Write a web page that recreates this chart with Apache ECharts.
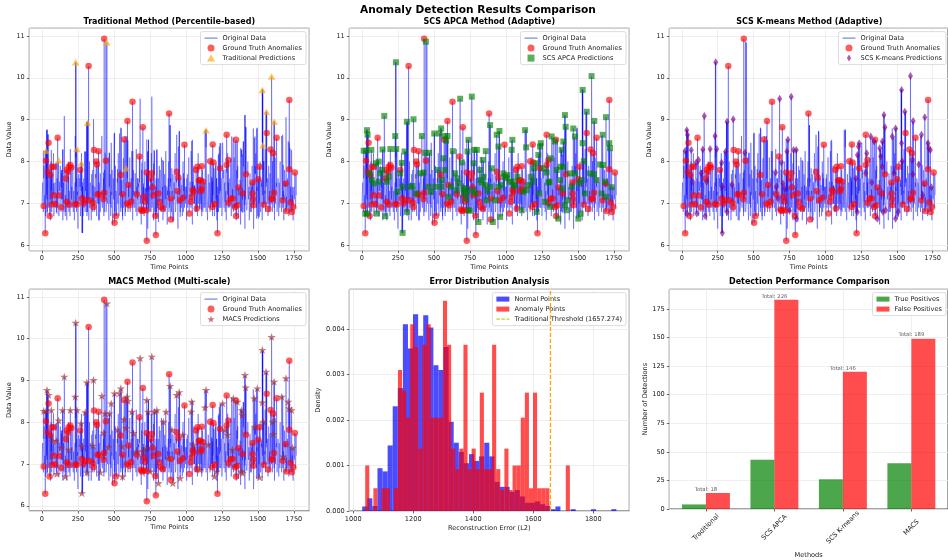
<!DOCTYPE html>
<html>
<head>
<meta charset="utf-8">
<title>Anomaly Detection Results Comparison</title>
<script src="https://cdn.jsdelivr.net/npm/echarts@6.0.0/dist/echarts.min.js"></script>
<style>
html,body{margin:0;padding:0;background:#ffffff;}
#chart{width:948px;height:560px;}
</style>
</head>
<body>
<div id="chart"></div>
<script>
// ================= DATA =================
// background signal, readings every 5 time points (0 .. 1765)
const baseValues = [
7.0,7.5,6.8,7.9,7.2,6.7,7.6,7.1,8.1,6.9,7.4,7.8,6.6,7.3,7.7,7.0,8.2,6.9,7.5,7.1,
6.8,7.6,7.2,8.0,6.7,7.4,6.9,7.8,7.1,6.6,7.5,8.3,7.0,6.8,7.7,7.2,6.9,8.0,7.3,6.7,
7.6,7.1,6.9,7.9,7.3,6.6,7.5,8.1,6.8,7.2,6.4,7.7,7.0,7.4,6.9,8.2,7.1,6.7,7.6,7.2,
6.8,7.9,7.3,6.9,7.5,6.6,8.0,7.2,7.0,7.7,6.8,7.4,8.3,6.9,7.1,7.6,6.7,7.3,7.9,7.0,
6.6,7.5,7.1,8.0,6.9,7.4,6.7,7.8,7.2,6.8,7.6,7.0,8.1,6.6,7.3,7.7,6.9,7.2,6.5,7.6,
7.1,6.8,7.9,7.3,6.9,7.5,8.2,6.7,7.2,7.6,6.9,7.4,6.6,8.0,7.1,7.3,6.8,7.7,7.0,7.5,
6.8,7.2,8.1,6.9,7.6,7.0,6.6,7.8,7.3,6.9,7.5,8.3,6.7,7.1,7.4,6.8,7.9,7.2,6.5,7.6,
7.0,7.4,6.7,8.0,7.2,6.9,7.6,6.4,7.8,7.1,6.8,7.5,8.2,6.9,7.3,6.6,7.7,7.0,7.4,6.8,
7.5,7.1,6.7,7.9,7.2,6.9,8.1,7.0,6.6,7.6,7.3,6.8,7.8,7.1,6.5,7.4,8.0,6.9,7.2,7.6,
6.8,7.3,7.7,6.6,7.1,8.2,6.9,7.5,7.0,6.4,7.8,7.2,6.8,7.6,7.1,6.7,8.0,7.3,6.9,7.4,
7.0,6.6,7.7,7.2,8.1,6.8,7.4,6.9,7.6,6.5,7.3,7.9,7.0,6.8,7.5,7.2,6.7,8.2,7.1,6.9,
7.6,7.0,6.7,7.8,7.3,6.9,7.5,8.0,6.8,7.2,6.6,7.7,7.1,7.4,6.9,8.1,7.0,6.7,7.5,7.2,
6.8,7.9,7.1,6.6,7.4,7.0,8.2,6.9,7.3,7.6,6.7,7.2,7.8,6.9,7.5,7.0,6.6,8.0,7.2,7.4,
6.9,7.6,7.1,6.7,7.8,7.3,6.8,8.1,7.0,7.5,6.6,7.2,7.9,6.9,7.4,7.1,6.5,7.7,7.3,6.8,
7.5,7.0,6.4,7.8,7.2,6.9,8.0,7.1,6.6,7.6,7.3,6.8,7.9,7.0,6.4,7.5,7.2,8.2,6.9,7.3,
6.7,7.6,7.1,8.0,6.9,7.4,6.6,7.8,7.2,7.0,8.3,6.8,7.5,7.1,6.7,7.9,7.3,6.9,7.6,7.0,
6.8,7.7,7.2,6.6,8.1,7.0,7.4,6.9,7.6,6.7,7.3,8.0,7.1,6.8,7.5,7.2,6.6,7.8,7.0,7.4,
6.9,7.6,7.1,6.7,8.0,7.3,6.8,7.5,7.0,6.6,7.4,7.2,6.9,7.7
];
// second set of readings, half-way between the first ones (2.5 .. 1767.5)
const baseValuesMid = [
7.3,6.9,7.6,7.0,6.6,7.8,7.2,6.8,7.4,7.7,6.9,7.1,8.0,6.8,7.2,7.5,6.7,7.3,6.9,7.8,
7.2,6.9,7.5,6.7,7.3,7.9,6.8,7.1,7.6,7.0,6.8,7.4,7.2,7.7,6.6,7.0,7.5,6.8,7.1,7.6,
6.9,7.4,7.7,6.8,7.0,7.3,6.9,7.4,7.6,6.8,7.1,7.0,7.6,6.7,7.3,7.0,7.5,7.2,6.9,7.8,
7.3,7.0,6.7,7.6,7.1,7.3,6.9,7.5,6.6,7.2,7.8,7.0,6.8,7.4,7.7,6.9,7.2,7.0,6.6,7.5,
7.2,6.9,7.7,7.0,7.3,7.6,6.8,7.1,7.5,6.9,7.2,7.8,6.9,7.4,7.0,6.7,7.5,7.8,6.9,7.1,
7.4,7.0,7.2,6.7,7.6,7.0,6.9,7.4,7.8,6.8,7.2,7.0,7.6,6.9,7.4,6.7,7.2,7.3,7.6,6.8,
7.5,7.0,6.8,7.4,7.1,7.7,6.9,7.2,7.0,7.6,6.8,7.3,7.1,7.6,6.9,7.5,7.0,6.7,7.8,7.1,
7.2,6.8,7.5,7.1,6.9,7.7,7.0,7.3,6.9,7.4,7.6,6.8,7.1,7.5,7.0,7.2,6.8,7.3,7.6,7.1,
6.9,7.6,7.3,7.0,7.5,6.8,7.2,7.4,7.0,6.8,7.7,7.1,6.9,7.4,7.2,7.6,6.8,7.3,7.5,6.9,
7.2,7.0,6.9,7.5,7.3,6.8,7.6,7.1,6.7,7.3,7.0,7.5,7.3,6.9,7.4,7.2,6.8,7.6,7.1,7.0,
7.4,7.1,6.9,7.5,6.8,7.3,7.1,7.7,6.9,7.2,7.6,7.0,7.4,7.1,6.8,7.6,7.2,7.0,7.5,7.3,
7.1,7.4,7.0,6.8,7.6,7.1,6.9,7.3,7.5,7.0,7.2,6.9,7.5,6.8,7.3,7.0,7.6,7.2,6.9,7.5,
7.3,7.0,7.6,7.2,6.8,7.4,7.1,7.5,6.9,7.2,7.0,7.6,7.1,7.4,6.8,7.3,7.1,7.5,6.9,7.0,
7.5,7.0,7.4,7.2,6.9,7.5,7.1,6.9,7.5,7.0,7.3,7.6,6.9,7.2,7.0,7.5,7.2,6.8,7.1,7.6,
6.9,7.3,7.1,7.2,6.8,7.6,7.3,7.4,7.0,6.8,7.5,7.1,7.3,6.9,7.2,7.0,7.7,7.1,7.4,6.8,
7.3,7.0,7.4,6.8,7.5,7.1,7.2,6.9,7.5,7.3,6.8,7.4,7.0,7.6,7.2,7.0,6.8,7.5,7.1,7.3,
7.2,7.1,6.9,7.4,7.0,7.5,6.8,7.3,7.1,7.5,6.9,7.2,7.0,7.6,6.9,7.3,7.1,7.4,6.8,7.2,
7.3,6.9,7.5,7.2,6.8,7.4,7.0,7.2,6.8,7.3,7.1,7.5,7.0,7.2
];
const baseStep = 5;

// ground-truth anomalies [time, value]
const groundTruth = [
[12,6.94],[23,6.29],[28,8.02],[42,7.76],[46,8.45],[53,6.70],[58,7.68],[69,7.88],[69,6.98],[81,7.88],
[81,7.20],[92,6.99],[109,8.57],[120,7.19],[134,6.91],[166,7.60],[173,7.04],[173,7.80],[180,7.75],[185,7.88],
[185,6.98],[197,7.92],[204,7.86],[231,6.99],[243,6.98],[266,7.80],[277,7.12],[289,7.00],[300,7.08],[324,10.28],
[330,7.08],[354,7.03],[358,6.92],[361,8.28],[377,8.00],[382,7.93],[386,7.22],[393,8.25],[400,7.21],[428,7.10],
[432,7.26],[432,10.93],[444,8.02],[504,6.54],[513,6.70],[548,7.68],[560,7.22],[571,8.53],[590,7.00],[594,8.97],
[601,7.44],[606,6.96],[620,7.05],[629,9.43],[659,7.22],[677,8.12],[687,6.86],[694,6.82],[701,8.82],[705,6.84],
[710,7.16],[715,7.05],[726,6.84],[728,6.11],[728,7.74],[756,7.60],[763,7.72],[768,7.39],[775,7.20],[788,6.71],
[791,6.25],[809,7.24],[816,7.04],[825,6.92],[839,6.88],[883,9.15],[895,6.62],[895,7.12],[936,7.76],[941,7.30],
[948,7.62],[960,7.08],[978,7.14],[990,8.40],[1024,6.76],[1034,7.04],[1040,7.16],[1047,7.32],[1055,7.28],[1071,7.80],
[1075,6.88],[1080,7.88],[1090,7.55],[1098,7.56],[1105,7.30],[1110,7.89],[1110,7.36],[1117,7.52],[1168,8.01],[1184,6.92],
[1186,8.41],[1191,7.98],[1202,6.99],[1219,6.29],[1237,7.84],[1283,8.64],[1283,7.92],[1295,8.04],[1295,7.02],[1310,7.12],
[1325,7.12],[1341,6.92],[1348,6.70],[1348,8.52],[1357,6.96],[1366,7.38],[1394,7.24],[1417,7.70],[1463,7.50],[1463,7.24],
[1468,7.10],[1468,6.96],[1503,7.58],[1510,7.88],[1542,6.98],[1561,8.68],[1572,6.87],[1588,8.29],[1595,7.12],[1602,7.10],
[1607,8.20],[1612,7.26],[1630,8.57],[1672,7.08],[1693,7.48],[1699,6.82],[1718,9.47],[1718,7.82],[1727,7.03],[1736,6.80],
[1746,6.92],[1757,7.74]
];

// Traditional (percentile) predictions
const tradPred = [
[28,8.26],[116,8.03],[234,10.37],[243,8.30],[273,7.96],[317,8.93],[451,10.84],[585,7.84],[1140,8.75],
[1531,9.71],[1536,8.39],[1559,9.19],[1595,10.03],[1614,8.95]
];

// SCS APCA predictions
const apcaPred = [
[12,8.26],[30,8.26],[35,8.75],[39,8.64],[35,6.76],[23,6.76],[53,7.72],[65,8.28],[69,7.56],[81,7.48],
[97,7.96],[104,6.76],[116,8.00],[120,7.52],[127,7.72],[139,7.80],[143,8.29],[155,9.09],[162,6.70],[173,7.52],
[185,7.64],[197,8.30],[231,8.61],[236,10.37],[238,8.30],[247,7.28],[266,7.72],[277,7.97],[282,7.40],[282,6.30],
[296,8.24],[312,8.95],[312,6.80],[335,7.40],[351,7.42],[358,9.01],[377,7.24],[405,7.72],[416,8.61],[428,7.74],
[439,8.21],[444,10.86],[462,7.40],[467,8.21],[479,7.28],[502,8.67],[509,7.40],[527,7.80],[539,8.67],[550,8.79],
[550,7.40],[555,7.56],[566,8.08],[578,7.80],[578,8.61],[585,8.50],[594,8.61],[601,7.16],[617,7.40],[631,8.25],
[647,7.72],[659,7.32],[663,7.60],[670,7.48],[682,9.50],[694,7.98],[705,7.36],[710,7.24],[717,7.36],[724,7.12],
[728,7.28],[733,8.24],[740,8.52],[740,6.84],[751,6.83],[763,9.55],[768,7.32],[775,7.96],[779,8.28],[786,7.24],
[798,8.28],[809,6.56],[821,7.80],[821,7.56],[832,7.50],[839,8.04],[844,7.64],[855,7.44],[860,8.25],[867,7.08],
[872,7.31],[890,8.87],[890,7.40],[902,7.84],[909,6.56],[925,7.08],[936,8.64],[948,8.36],[948,7.40],[955,8.73],
[960,6.68],[971,7.44],[983,7.72],[990,7.64],[1006,7.60],[1010,7.68],[1029,7.52],[1040,8.28],[1045,8.52],[1047,7.52],
[1057,7.42],[1059,7.44],[1080,7.64],[1110,6.84],[1121,7.28],[1133,8.75],[1140,8.34],[1144,7.32],[1156,7.44],[1179,7.64],
[1184,7.52],[1195,7.84],[1209,7.96],[1214,6.80],[1225,8.16],[1232,7.24],[1237,8.36],[1242,8.44],[1260,7.84],[1272,7.04],
[1283,7.74],[1295,7.50],[1302,7.52],[1306,6.92],[1311,8.08],[1318,8.60],[1341,8.48],[1353,7.80],[1364,6.64],[1376,7.56],
[1380,7.88],[1387,8.28],[1394,7.36],[1399,8.48],[1399,7.88],[1410,9.11],[1410,6.96],[1415,8.83],[1422,6.84],[1427,7.08],
[1445,7.72],[1457,7.40],[1468,8.79],[1480,8.60],[1480,7.72],[1503,6.64],[1510,7.48],[1519,6.76],[1526,7.56],[1533,8.44],
[1533,9.71],[1542,8.01],[1549,7.24],[1561,9.19],[1584,7.72],[1595,10.04],[1612,7.70],[1614,8.97],[1630,7.56],[1653,7.93],
[1665,7.24],[1672,8.64],[1676,7.92],[1688,7.52],[1695,9.06],[1699,7.16],[1718,8.44],[1723,8.32],[1734,7.39]
];

// SCS K-means predictions
const kmeansPred = [
[23,8.26],[34,8.75],[39,8.64],[35,6.76],[65,8.28],[76,7.52],[99,7.98],[104,6.76],[116,8.04],[134,7.72],
[146,8.29],[157,9.09],[162,6.70],[173,7.52],[197,8.30],[231,8.61],[236,10.37],[243,8.30],[277,7.97],[282,7.40],
[282,6.30],[305,8.24],[315,8.95],[315,6.80],[358,9.01],[351,7.44],[439,8.21],[654,7.74],[659,7.40],[670,7.12],
[682,9.50],[694,7.98],[705,7.48],[717,7.36],[733,8.24],[740,8.52],[751,6.83],[763,9.55],[779,8.28],[798,8.28],
[798,6.64],[1214,7.60],[1225,8.16],[1225,6.80],[1232,8.36],[1237,8.44],[1283,7.72],[1290,8.20],[1318,8.60],[1325,7.50],
[1341,8.48],[1364,6.64],[1380,8.32],[1387,8.12],[1399,8.48],[1399,7.88],[1404,6.80],[1410,9.11],[1417,8.82],[1422,6.84],
[1468,8.60],[1480,7.72],[1491,8.79],[1491,6.64],[1510,6.80],[1533,8.44],[1533,9.71],[1537,8.01],[1556,9.19],[1595,10.04],
[1607,8.04],[1612,7.70],[1614,8.97],[1653,7.93],[1672,8.64],[1681,7.20],[1695,9.06],[1718,8.44],[1723,8.32],[1734,8.28],
[1741,7.39]
];

// MACS predictions
const macsPred = [
[12,8.27],[28,8.27],[35,8.77],[46,8.65],[65,8.29],[76,7.55],[99,7.56],[104,6.76],[116,8.04],[134,7.39],
[143,8.29],[155,9.09],[162,6.70],[185,7.34],[197,8.29],[231,8.61],[234,10.38],[243,8.29],[271,7.97],[277,7.42],
[277,6.30],[301,8.24],[312,8.95],[312,6.80],[354,7.44],[358,9.01],[405,6.80],[416,8.63],[428,7.75],[439,8.21],
[451,10.84],[462,7.40],[469,8.21],[481,8.45],[504,8.69],[525,7.82],[539,8.69],[548,8.81],[555,7.42],[560,6.70],
[571,8.07],[585,7.86],[590,8.61],[597,8.51],[624,8.25],[636,7.74],[659,7.30],[682,9.53],[701,7.30],[721,7.38],
[728,8.53],[737,8.25],[751,6.82],[763,9.57],[781,8.25],[798,8.29],[809,6.54],[844,8.01],[862,8.25],[879,7.15],
[890,8.87],[902,7.82],[909,6.54],[936,8.65],[953,8.72],[960,6.66],[978,7.70],[1036,8.25],[1040,8.49],[1052,7.46],
[1098,6.86],[1133,8.35],[1140,8.77],[1156,7.46],[1198,6.70],[1214,6.82],[1255,8.45],[1272,7.82],[1290,7.70],[1323,7.34],
[1329,8.57],[1357,8.49],[1383,6.82],[1387,8.29],[1392,8.17],[1394,6.78],[1410,9.13],[1415,8.83],[1475,8.57],[1480,7.89],
[1496,8.81],[1510,6.68],[1531,8.47],[1531,9.73],[1538,8.01],[1556,9.21],[1595,10.04],[1602,8.01],[1607,7.72],[1612,8.97],
[1665,8.61],[1676,7.18],[1695,9.05],[1711,8.49],[1718,8.33],[1734,8.29],[1741,7.39]
];

// Error distribution histograms (density per bin)
const normalBinStart = 1030, normalBinWidth = 16.94;
const normalDensity = [
0.00010,0.00028,0.00011,0.00094,0.00087,0.00144,0.00230,0.00270,0.00410,0.00357,
0.00432,0.00385,0.00430,0.00403,0.00320,0.00310,0.00360,0.00196,0.00150,0.00130,
0.00105,0.00125,0.00110,0.00120,0.00150,0.00120,0.00064,0.00053,0.00053,0.00042,
0.00046,0.00032,0.00018,0.00018,0.00021,0.00015,0.00011,0.00004,0.00010,0,
0,0.00004,0,0,0,0.00004,0,0,0,0.00004
];
const anomalyBinStart = 1040, anomalyBinWidth = 13.64;
const anomalyDensity = [
0.00100,0,0.00050,0,0.00050,0.00050,0,0.00050,0.00310,0.00265,
0.00205,0.00410,0.00360,0.00137,0.00365,0.00410,0.00205,0.00205,0.00205,0.00462,
0.00365,0.00137,0.00092,0.00137,0.00365,0.00092,0.00137,0.00092,0.00260,0.00092,
0.00092,0.00365,0.00092,0.00046,0.00137,0.00046,0.00100,0.00100,0.00205,0.00260,
0.00050,0.00260,0.00050,0.00050,0.00050,0,0,0,0,0.00100
];
const threshold = 1657.274;

// Detection performance
const methods = ['Traditional', 'SCS APCA', 'SCS K-means', 'MACS'];
const truePositives = [4, 43, 26, 40];
const falsePositives = [14, 183, 120, 149];
const totals = [18, 226, 146, 189];

// ================= BUILD =================
const FONT = 'DejaVu Sans';
const lineData = (function () {
  const pts = baseValues.map((v, i) => [i * baseStep, v]);
  baseValuesMid.forEach((v, i) => pts.push([i * baseStep + baseStep / 2, v]));
  [groundTruth, tradPred, apcaPred, kmeansPred, macsPred].forEach(a => a.forEach(p => pts.push([p[0], p[1]])));
  pts.sort((a, b) => a[0] - b[0]);
  return pts;
})();

const G = [
  {left: 29.3, top: 28.3, width: 280, height: 222.4},
  {left: 349.3, top: 28.3, width: 280, height: 222.4},
  {left: 669.3, top: 28.3, width: 280, height: 222.4},
  {left: 29.3, top: 289.3, width: 280, height: 221.7},
  {left: 349.3, top: 289.3, width: 280, height: 221.7},
  {left: 669.3, top: 289.3, width: 280, height: 221.7}
];

const plain = v => String(Math.round(v * 1e6) / 1e6);

function axis(gridIndex, min, max, step, extra) {
  const base = {
    type: 'value', gridIndex: gridIndex, min: min, max: max,
    minInterval: step, maxInterval: step,
    axisLine: {show: false, onZero: false},
    axisTick: {show: true, length: 2.5, lineStyle: {color: '#444', width: 0.8}},
    axisLabel: {show: true, fontFamily: FONT, fontSize: 6.6, color: '#222', margin: 4.5,
                showMinLabel: false, showMaxLabel: false, formatter: plain},
    splitLine: {show: true, lineStyle: {color: '#ebebeb', width: 0.8}},
    nameLocation: 'middle',
    nameTextStyle: {fontFamily: FONT, fontSize: 6.6, color: '#222'}
  };
  if (extra) {
    for (const k in extra) {
      if (typeof extra[k] === 'object' && !Array.isArray(extra[k]) && base[k]) base[k] = Object.assign({}, base[k], extra[k]);
      else base[k] = extra[k];
    }
  }
  return base;
}

const xAxes = [], yAxes = [];
for (let k = 0; k < 6; k++) {
  if (k === 4) {
    xAxes.push(axis(k, 987, 1920, 200, {name: 'Reconstruction Error (L2)', nameGap: 14}));
    yAxes.push(axis(k, 0, 0.00487, 0.001, {name: 'Density', nameGap: 26,
      axisLabel: {showMinLabel: true, formatter: v => v.toFixed(3)}}));
  } else if (k === 5) {
    xAxes.push(axis(k, -0.535, 3.535, 1, {name: 'Methods', nameGap: 43,
      axisLabel: {rotate: 45, align: 'center', verticalAlign: 'middle', margin: 18.5,
                  formatter: v => methods[Math.round(v)] || ''}}));
    yAxes.push(axis(k, 0, 192.2, 25, {name: 'Number of Detections', nameGap: 21,
      axisLabel: {showMinLabel: true}}));
  } else {
    xAxes.push(axis(k, -88, 1857, 250, {name: 'Time Points', nameGap: 13}));
    yAxes.push(axis(k, 5.875, 11.18, 1, {name: 'Data Value', nameGap: 15.5}));
  }
}

const SYM = {
  tri: 'path://M50,0 L100,86.6 L0,86.6 Z',
  sq: 'path://M0,0 L100,0 L100,100 L0,100 Z',
  dia: 'path://M30,0 L60,50 L30,100 L0,50 Z',
  star: 'path://M50,0 L61.2,34.5 L97.6,34.5 L68.2,55.9 L79.4,90.5 L50,69.1 L20.6,90.5 L31.8,55.9 L2.4,34.5 L38.8,34.5 Z'
};
const LINE_ICON = 'path://M0,0 L13,0 L13,1 L0,1 Z';
const PATCH_ICON = 'path://M0,0 L13,0 L13,5 L0,5 Z';
const DASH_ICON = 'path://M0,0 L3.6,0 L3.6,1.3 L0,1.3 Z M5,0 L8.6,0 L8.6,1.3 L5,1.3 Z M10,0 L13,0 L13,1.3 L10,1.3 Z';

const preds = [
  {name: 'Traditional Predictions', data: tradPred, symbol: SYM.tri, size: [7.5, 6.5], color: 'rgba(255,165,0,0.8)'},
  {name: 'SCS APCA Predictions', data: apcaPred, symbol: SYM.sq, size: 6, color: 'rgba(0,128,0,0.8)'},
  {name: 'SCS K-means Predictions', data: kmeansPred, symbol: SYM.dia, size: [5, 8], color: 'rgba(128,0,128,0.8)'},
  {name: 'MACS Predictions', data: macsPred, symbol: SYM.star, size: [8.5, 8], color: 'rgba(165,42,42,0.8)'}
];

const series = [];
for (let k = 0; k < 4; k++) {
  series.push({type: 'line', name: 'Original Data', xAxisIndex: k, yAxisIndex: k, data: lineData,
    symbol: 'none', showSymbol: false, lineStyle: {color: 'rgba(0,0,255,0.5)', width: 0.7},
    silent: true, z: 2, clip: true});
  series.push({type: 'scatter', name: 'Ground Truth Anomalies', xAxisIndex: k, yAxisIndex: k, data: groundTruth,
    symbol: 'circle', symbolSize: 6.5, itemStyle: {color: 'rgba(255,0,0,0.8)'}, silent: true, z: 3});
  series.push({type: 'scatter', name: preds[k].name, xAxisIndex: k, yAxisIndex: k, data: preds[k].data,
    symbol: preds[k].symbol, symbolSize: preds[k].size, itemStyle: {color: preds[k].color}, silent: true, z: 4});
}

function rectSeries(name, gi, data, color) {
  return {
    type: 'custom', name: name, xAxisIndex: gi, yAxisIndex: gi, data: data, silent: true,
    itemStyle: {color: color},
    renderItem: function (params, api) {
      const p0 = api.coord([api.value(0), 0]);
      const p1 = api.coord([api.value(1), api.value(2)]);
      return {type: 'rect', shape: {x: p0[0], y: p1[1], width: p1[0] - p0[0], height: p0[1] - p1[1]},
              style: {fill: color}};
    }
  };
}
const normalBins = normalDensity.map((d, i) => [normalBinStart + i * normalBinWidth, normalBinStart + (i + 1) * normalBinWidth, d]);
const anomalyBins = anomalyDensity.map((d, i) => [anomalyBinStart + i * anomalyBinWidth, anomalyBinStart + (i + 1) * anomalyBinWidth, d]);
series.push(rectSeries('Normal Points', 4, normalBins, 'rgba(0,0,255,0.7)'));
series.push(rectSeries('Anomaly Points', 4, anomalyBins, 'rgba(255,0,0,0.7)'));
series.push({type: 'line', name: 'Traditional Threshold (1657.274)', xAxisIndex: 4, yAxisIndex: 4,
  data: [[threshold, 0], [threshold, 0.00487]], symbol: 'none', showSymbol: false,
  lineStyle: {color: '#ffa500', width: 1.3, type: [4, 2]}, silent: true, z: 5});

const barW = 0.35;
series.push(rectSeries('True Positives', 5, truePositives.map((v, i) => [i - barW, i, v]), 'rgba(0,128,0,0.7)'));
series.push(rectSeries('False Positives', 5, falsePositives.map((v, i) => [i, i + barW, v]), 'rgba(255,0,0,0.7)'));
series.push({type: 'scatter', name: 'totals', xAxisIndex: 5, yAxisIndex: 5, symbolSize: 0, silent: true,
  data: totals.map((t, i) => [i, Math.max(truePositives[i], falsePositives[i]) + 1]),
  label: {show: true, position: 'top', distance: 0, fontFamily: FONT, fontSize: 5.3, color: '#333',
          formatter: p => 'Total: ' + totals[p.dataIndex]}});

function legend(right, top, items) {
  return {orient: 'vertical', right: right, top: top, data: items, selectedMode: false,
    itemWidth: 13, itemHeight: 7, itemGap: 3, padding: [3, 4, 3, 4],
    backgroundColor: 'rgba(255,255,255,0.85)', borderColor: '#d3d3d3', borderWidth: 0.8, borderRadius: 2,
    itemStyle: {borderWidth: 0},
    textStyle: {fontFamily: FONT, fontSize: 6.6, color: '#222', lineHeight: 7}};
}
const lt = [31.6, 31.6, 31.6, 292.6, 292.6, 292.6];
const lr = [642, 322, 2, 642, 322, 2];
const legends = [];
for (let k = 0; k < 4; k++) {
  legends.push(legend(lr[k], lt[k], [{name: 'Original Data', icon: LINE_ICON}, 'Ground Truth Anomalies', preds[k].name]));
}
legends.push(legend(lr[4], lt[4], [{name: 'Normal Points', icon: PATCH_ICON}, {name: 'Anomaly Points', icon: PATCH_ICON},
  {name: 'Traditional Threshold (1657.274)', icon: DASH_ICON}]));
legends.push(legend(lr[5], lt[5], [{name: 'True Positives', icon: PATCH_ICON}, {name: 'False Positives', icon: PATCH_ICON}]));

function sub(text, cx, top) {
  return {text: text, left: cx, top: top, textAlign: 'center', padding: 0,
    textStyle: {fontFamily: FONT, fontSize: 8, fontWeight: 'bold', color: '#000', lineHeight: 8}};
}
const titles = [
  {text: 'Anomaly Detection Results Comparison', left: 478, top: 4.7, textAlign: 'center', padding: 0,
   textStyle: {fontFamily: FONT, fontSize: 10.6, fontWeight: 'bold', color: '#000', lineHeight: 10.6}},
  sub('Traditional Method (Percentile-based)', 169.3, 18.3),
  sub('SCS APCA Method (Adaptive)', 489.3, 18.3),
  sub('SCS K-means Method (Adaptive)', 809.3, 18.3),
  sub('MACS Method (Multi-scale)', 169.3, 278.3),
  sub('Error Distribution Analysis', 489.3, 278.3),
  sub('Detection Performance Comparison', 809.3, 278.3)
];

const chart = echarts.init(document.getElementById('chart'), null, {renderer: 'canvas'});
chart.setOption({
  animation: false,
  backgroundColor: '#ffffff',
  textStyle: {fontFamily: FONT},
  title: titles,
  legend: legends,
  grid: G.map(g => Object.assign({show: true, borderColor: '#444', borderWidth: 1,
    backgroundColor: 'rgba(0,0,0,0)', containLabel: false}, g)),
  xAxis: xAxes,
  yAxis: yAxes,
  series: series
});
</script>
</body>
</html>
